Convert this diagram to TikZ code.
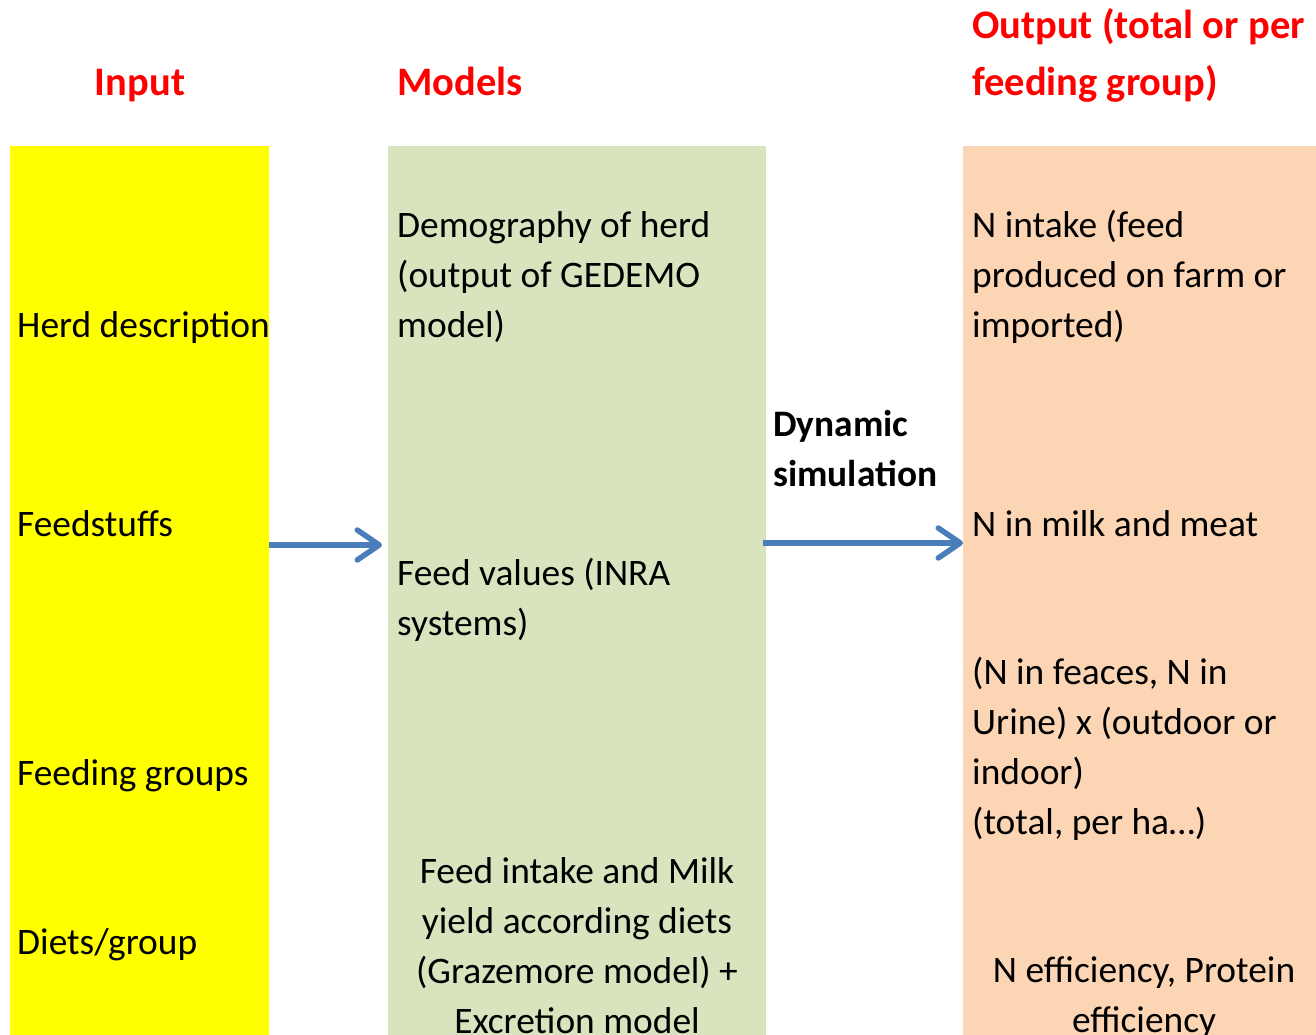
\documentclass[tikz,border=0pt]{standalone}
\usepackage{fontspec}
\setmainfont{Carlito}
\usetikzlibrary{arrows.meta}
\definecolor{inyellow}{RGB}{255,255,0}
\definecolor{modgreen}{RGB}{215,228,189}
\definecolor{outorange}{RGB}{252,213,181}
\definecolor{headred}{RGB}{255,0,0}
\definecolor{flowblue}{RGB}{74,126,187}
\begin{document}
\begin{tikzpicture}[x=1pt,y=-1pt]
\tikzstyle{column}=[anchor=north west, inner sep=0, minimum height=889pt]
\tikzstyle{txt}=[anchor=base west, inner sep=0, align=left, font=\fontsize{37.4}{50}\selectfont]
\tikzstyle{head}=[txt, font=\fontsize{40.5}{57}\selectfont\bfseries, text=headred]
\tikzstyle{flow}=[line width=5.5pt, draw=flowblue, -{Straight Barb[length=22pt, width=30pt, round]}]
\useasboundingbox (0,0) rectangle (1316,1035);
% columns
\node[column, fill=inyellow, minimum width=259pt] (inbox) at (10,146) {};
\node[column, fill=modgreen, minimum width=378pt] (modbox) at (388,146) {};
\node[column, fill=outorange, minimum width=360pt] (outbox) at (963,146) {};
% headings (multi-line nodes sit on the baseline of their last line)
\node[head, anchor=base] (inhead) at (140,96) {Input};
\node[head] (modhead) at (397,96) {Models};
\node[head] (outhead) at (972,96) {Output (total or per\\feeding group)};
% input
\node[txt] (herd) at (17,337) {Herd description};
\node[txt] (feeds) at (17,536) {Feedstuffs};
\node[txt] (groups) at (17,785) {Feeding groups};
\node[txt] (diets) at (17,954) {Diets/group};
% models
\node[txt] (demo) at (397,337) {Demography of herd\\(output of GEDEMO\\model)};
\node[txt] (values) at (397,635) {Feed values (INRA\\systems)};
\node[txt, anchor=base, align=center] (intake) at (577,1033) {Feed intake and Milk\\yield according diets\\(Grazemore model) +\\Excretion model};
\node[txt, font=\fontsize{37.4}{50}\selectfont\bfseries] (dyn) at (773,486) {Dynamic\\simulation};
% output
\node[txt] (nintake) at (972,337) {N intake (feed\\produced on farm or\\imported)};
\node[txt] (nmilk) at (972,536) {N in milk and meat};
\node[txt] (nexcr) at (972,834) {(N in feaces, N in\\Urine) x (outdoor or\\indoor)\\(total, per ha\dots)};
\node[txt, anchor=base, align=center] (neff) at (1144,1032) {N efficiency, Protein\\efficiency};
% arrows
\draw[flow, shorten >=6pt] (inbox.east |- 0,545) -- (modbox.west |- 0,545);
\draw[flow, shorten <=-3pt] (modbox.east |- 0,543) -- (outbox.west |- 0,543);
\end{tikzpicture}
\end{document}
